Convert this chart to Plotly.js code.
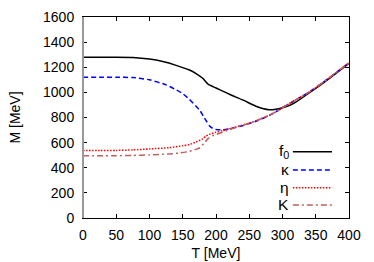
<!DOCTYPE html>
<html>
<head>
<meta charset="utf-8">
<script src="https://cdn.plot.ly/plotly-3.0.1.min.js"></script>
<style>html,body{margin:0;padding:0;background:#fff;}#chart{width:374px;height:262px;}</style>
</head>
<body>
<div id="chart"></div>
<script>
// f0 curve
const T_f0 = [0, 25, 50, 75, 100, 120, 140, 160, 170, 180, 188, 200, 220, 240, 260, 270, 280, 290, 300, 310, 320, 340, 360, 380, 400];
const M_f0 = [1280, 1280, 1280, 1278, 1265, 1245, 1215, 1178, 1150, 1112, 1065, 1035, 985, 940, 890, 872, 862, 866, 878, 895, 922, 995, 1070, 1150, 1232];
// kappa curve
const T_kappa = [0, 25, 50, 75, 100, 125, 140, 150, 160, 170, 176, 181, 186, 190, 195, 200, 210, 220, 240, 260, 280, 290, 300, 310, 320, 340, 360, 380, 400];
const M_kappa = [1120, 1120, 1120, 1118, 1100, 1060, 1020, 990, 945, 890, 855, 810, 768, 735, 714, 705, 703, 710, 735, 770, 815, 845, 880, 910, 940, 1002, 1075, 1155, 1235];
// eta curve
const T_eta = [0, 25, 50, 75, 100, 130, 150, 160, 170, 180, 185, 190, 200, 210, 230, 250, 263, 280, 290, 300, 310, 320, 340, 360, 380, 400];
const M_eta = [538, 538, 538, 542, 550, 560, 575, 585, 605, 630, 652, 666, 682, 695, 725, 755, 780, 818, 845, 878, 910, 940, 1002, 1075, 1155, 1235];
// K curve
const T_K = [0, 25, 50, 75, 100, 130, 146, 160, 171, 176, 181, 188, 195, 201, 216, 230, 250, 263, 280, 290, 300, 310, 320, 340, 360, 380, 400];
const M_K = [496, 496, 496, 498, 502, 510, 518, 530, 548, 560, 590, 632, 655, 666, 695, 722, 755, 780, 818, 845, 878, 910, 940, 1002, 1075, 1155, 1235];

const labels = ['f<sub>0</sub>', 'κ', 'η', 'K'];
const colors = ['#000000', '#0000ff', '#ff0000', '#c06060'];
const dashes = ['solid', '5px,3px', '1.5px,1.5px', '6px,3px,2px,3px'];
const xs = [T_f0, T_kappa, T_eta, T_K];
const ys = [M_f0, M_kappa, M_eta, M_K];

const traces = xs.map((x, i) => ({
  x: x, y: ys[i], type: 'scatter', mode: 'lines',
  line: {color: colors[i], dash: dashes[i], width: 1.5, shape: 'spline', smoothing: 0.5},
  showlegend: false, hoverinfo: 'skip'
}));

const legX0 = 0.789, legX1 = 0.936, legLabelX = 0.782;
const legY = [0.330, 0.239, 0.151, 0.065];
const shapes = [
  {type: 'line', xref: 'paper', yref: 'paper', x0: 0, x1: 0, y0: 0, y1: 1, line: {color: '#999999', width: 2}}
];
const annotations = [];
labels.forEach((lab, i) => {
  shapes.push({type: 'line', xref: 'paper', yref: 'paper', x0: legX0, x1: legX1, y0: legY[i], y1: legY[i],
    line: {color: colors[i], dash: dashes[i], width: 1.5}});
  annotations.push({xref: 'paper', yref: 'paper', x: legLabelX, y: legY[i], text: lab, showarrow: false,
    xanchor: 'right', yanchor: 'middle', font: {size: 15.5, color: '#000'}});
});

const font = {family: '"Liberation Sans", Arial, sans-serif', size: 14, color: '#000'};
const layout = {
  width: 374, height: 262,
  margin: {l: 83, r: 25, t: 17, b: 44},
  paper_bgcolor: '#fff', plot_bgcolor: '#fff',
  font: font,
  showlegend: false,
  xaxis: {
    range: [0, 400], tickvals: [0, 50, 100, 150, 200, 250, 300, 350, 400],
    ticks: 'inside', ticklen: 4, tickcolor: '#000', tickwidth: 1,
    showline: true, linecolor: '#000', linewidth: 1, mirror: 'allticks',
    showgrid: false, zeroline: false,
    title: {text: 'T [MeV]', font: {size: 14}, standoff: 6},
    ticklabelstandoff: 4
  },
  yaxis: {
    range: [0, 1600], tickvals: [0, 200, 400, 600, 800, 1000, 1200, 1400, 1600],
    ticks: 'inside', ticklen: 4, tickcolor: '#000', tickwidth: 1,
    showline: true, linecolor: '#000', linewidth: 1, mirror: 'allticks',
    showgrid: false, zeroline: false,
    title: {text: 'M [MeV]', font: {size: 14}, standoff: 19},
    ticklabelstandoff: 5
  },
  shapes: shapes,
  annotations: annotations
};

Plotly.newPlot('chart', traces, layout, {displayModeBar: false, staticPlot: true});
</script>
</body>
</html>
